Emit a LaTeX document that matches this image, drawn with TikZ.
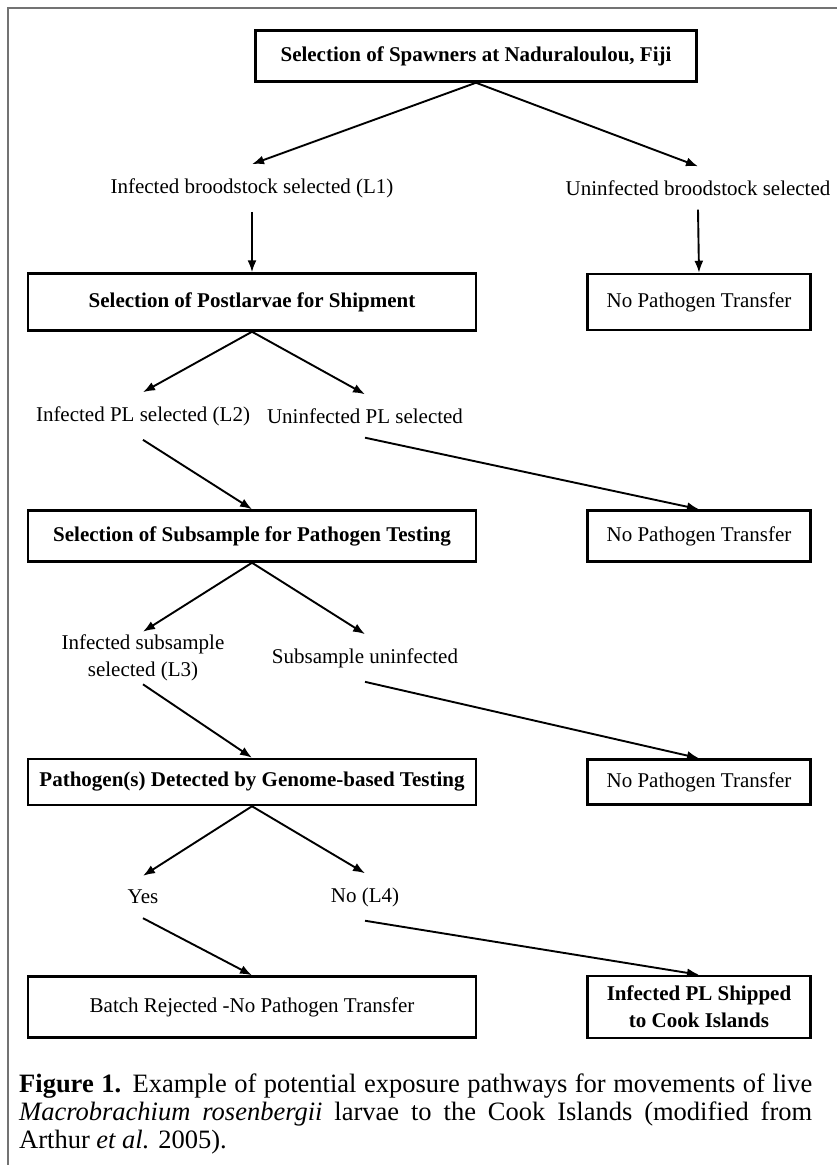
\documentclass[tikz,border=0pt]{standalone}
\usepackage{fontspec}
\setmainfont{Liberation Serif}
\usepackage{tikz}
\usetikzlibrary{arrows.meta}

\begin{document}
\begin{tikzpicture}[x=1pt,y=1pt,
  box/.style = {draw, line width=2.5pt, font=\fontsize{21}{27}\selectfont, minimum width=448pt, align=center},
  nobox/.style = {box, minimum width=223pt},
  lbl/.style = {font=\fontsize{21}{27}\selectfont, inner ysep=14pt, align=center},
  arr/.style = {-{Latex[length=12pt,width=9pt]}, line width=1.9pt},
  node distance={447pt}]
\useasboundingbox (0,0) rectangle (837,-1165);
\draw[black!55, line width=1.2pt] (8,-1165) -- (8,-8) -- (837,-8);
\node[box] (spawn) at (476,-56) [minimum width=441pt, minimum height=51pt] {\bfseries Selection of Spawners at Naduraloulou, Fiji};
\node[lbl] (l1) [node distance=132pt, below of=spawn, xshift=-224pt] {Infected broodstock selected (L1)};
\node[lbl] (u1) [right of=l1, node distance=446pt] {Uninfected broodstock selected};
\node[box] (pl) [below of=l1, node distance=114pt][minimum height=57pt] {\bfseries Selection of Postlarvae for Shipment};
\node[nobox] (nt1) [right of=pl][minimum height=56pt] {No Pathogen Transfer};
\node[lbl] (l2) [below of=pl, node distance=114pt, xshift=-109pt] {Infected PL selected (L2)};
\node[lbl] (u2) [right of=l2, node distance=222pt] {Uninfected PL selected};
\node[box] (sub) [below of=pl, node distance=234pt][minimum height=51pt] {\bfseries Selection of Subsample for Pathogen Testing};
\node[nobox] (nt2) [right of=sub][minimum height=51pt] {No Pathogen Transfer};
\node[lbl] (l3) [below of=l2, node distance=242pt][inner ysep=3pt] {Infected subsample\\selected (L3)};
\node[lbl] (u3) [right of=l3, node distance=222pt] {Subsample uninfected};
\node[box] (det) [below of=sub, node distance=246pt][minimum height=46pt] {\bfseries Pathogen(s) Detected by Genome-based Testing};
\node[nobox] (nt3) [right of=det][minimum height=45pt] {No Pathogen Transfer};
\node[lbl] (yes) [below of=l3, node distance=239pt] {Yes};
\node[lbl] (no) [right of=yes, node distance=222pt] {No (L4)};
\node[box] (rej) [below of=det, node distance=225pt][minimum height=61pt] {Batch Rejected -No Pathogen Transfer};
\node[nobox] (ship) [right of=rej][minimum height=62pt] {\bfseries Infected PL Shipped\\\bfseries to Cook Islands};
\node[anchor=north west, inner sep=0pt, text width=793pt, align=justify, font=\fontsize{26.5}{28}\selectfont] (cap) at (19,-1074) {\textbf{Figure 1.} Example of potential exposure pathways for movements of live\linebreak \textit{Macrobrachium rosenbergii} larvae to the Cook Islands (modified from\linebreak Arthur \textit{et al.} 2005).};
\draw[arr] (spawn.south) -- (l1.north);
\draw[arr] (spawn.south) -- (u1.north);
\draw[arr] (l1.south) -- (pl.north);
\draw[arr] (u1.south) -- (nt1.north);
\draw[arr] (pl.south) -- (l2.north);
\draw[arr] (pl.south) -- (u2.north);
\draw[arr] (l2.south) -- (sub.north);
\draw[arr] (u2.south) -- (nt2.north);
\draw[arr] (sub.south) -- (l3.north);
\draw[arr] (sub.south) -- (u3.north);
\draw[arr] (l3.south) -- (det.north);
\draw[arr] (u3.south) -- (nt3.north);
\draw[arr] (det.south) -- (yes.north);
\draw[arr] (det.south) -- (no.north);
\draw[arr] (yes.south) -- (rej.north);
\draw[arr] (no.south) -- (ship.north);
\end{tikzpicture}
\end{document}
